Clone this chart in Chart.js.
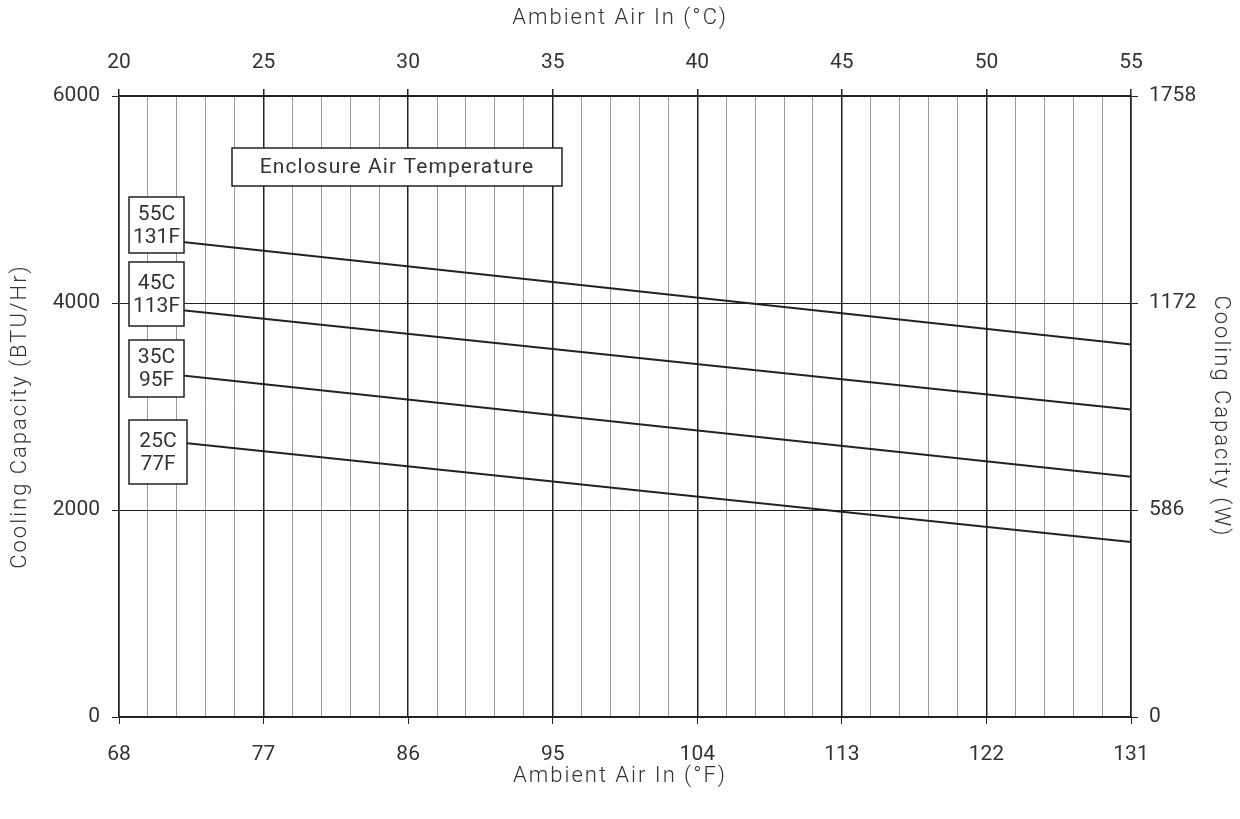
<!DOCTYPE html>
<html>
<head>
<meta charset="utf-8">
<script src="https://cdn.jsdelivr.net/npm/chart.js@4.4.1/dist/chart.umd.min.js"></script>
<style>
html, body { margin: 0; padding: 0; background: #fff; }
#wrap { width: 1240px; height: 819px; position: relative; }
</style>
</head>
<body>
<div id="wrap"><canvas id="coolingChart"></canvas></div>
<script>
// ambient air in, degrees C (where each curve starts and ends)
const ambientC = [22.2, 55]
const capacity55C = [4590, 3600]
const capacity45C = [3930, 2970]
const capacity35C = [3300, 2320]
const capacity25C = [2650, 1690]
const seriesNames = ['55C\n131F', '45C\n113F', '35C\n95F', '25C\n77F']

const btuTicks = [0, 2000, 4000, 6000]
const wattTicks = [0, 586, 1172, 1758]
const fahrenheitTicks = [68, 77, 86, 95, 104, 113, 122, 131]

const ink = '#222'
const textColor = '#333'
const fontFamily = 'Roboto, "Noto Sans", sans-serif'

Chart.defaults.font.family = fontFamily
Chart.defaults.font.size = 21
Chart.defaults.color = textColor

function toPoints(values) {
    return values.map((v, i) => ({ x: ambientC[i], y: v }))
}

const allSeries = [capacity55C, capacity45C, capacity35C, capacity25C]

// the white labelled boxes on top of the plot
const boxPlugin = {
    id: 'boxes',
    afterDatasetsDraw(chart) {
        const { ctx, chartArea } = chart
        const L = chartArea.left, T = chartArea.top
        const boxes = [
            { x: 10, y: 101, w: 55, h: 56 },
            { x: 10, y: 166, w: 55, h: 64 },
            { x: 10, y: 244, w: 55, h: 57 },
            { x: 10, y: 324, w: 58, h: 64 },
        ]
        ctx.save()
        ctx.lineWidth = 1.5
        ctx.strokeStyle = ink
        ctx.font = '21px ' + fontFamily
        ctx.textAlign = 'center'
        ctx.textBaseline = 'middle'
        boxes.forEach((b, i) => {
            ctx.fillStyle = '#fff'
            ctx.fillRect(L + b.x, T + b.y, b.w, b.h)
            ctx.strokeRect(L + b.x, T + b.y, b.w, b.h)
            const lines = seriesNames[i].split('\n')
            const cx = L + b.x + b.w / 2
            const cy = T + b.y + b.h / 2 + 1
            ctx.fillStyle = textColor
            ctx.fillText(lines[0], cx, cy - 11.5)
            ctx.fillText(lines[1], cx, cy + 11.5)
        })
        // title box
        const tb = { x: 113, y: 52, w: 330, h: 38 }
        ctx.fillStyle = '#fff'
        ctx.fillRect(L + tb.x, T + tb.y, tb.w, tb.h)
        ctx.strokeRect(L + tb.x, T + tb.y, tb.w, tb.h)
        ctx.fillStyle = textColor
        ctx.letterSpacing = '1.1px'
        ctx.fillText('Enclosure Air Temperature', L + tb.x + tb.w / 2, T + tb.y + tb.h / 2 + 1)
        ctx.restore()
    }
}

// axis titles, drawn by hand so they can be letter-spaced like the original
const axisTitlePlugin = {
    id: 'axisTitles',
    afterDraw(chart) {
        const { ctx, chartArea } = chart
        const cx = (chartArea.left + chartArea.right) / 2 - 5
        const cy = (chartArea.top + chartArea.bottom) / 2 + 10
        ctx.save()
        ctx.font = '300 22px ' + fontFamily
        ctx.letterSpacing = '2px'
        ctx.fillStyle = textColor
        ctx.textAlign = 'center'
        ctx.textBaseline = 'middle'
        ctx.fillText('Ambient Air In (°C)', cx, 18)
        ctx.fillText('Ambient Air In (°F)', cx, 776)

        ctx.save()
        ctx.translate(20, cy)
        ctx.rotate(-Math.PI / 2)
        ctx.fillText('Cooling Capacity (BTU/Hr)', 0, 0)
        ctx.restore()

        ctx.save()
        ctx.translate(1220, cy)
        ctx.rotate(Math.PI / 2)
        ctx.fillText('Cooling Capacity (W)', 0, 0)
        ctx.restore()
        ctx.restore()
    }
}

const setTicks = (values) => (scale) => {
    scale.ticks = values.map(v => ({ value: v }))
}

new Chart(document.getElementById('coolingChart'), {
    type: 'line',
    data: {
        datasets: allSeries.map((s, i) => ({
            label: seriesNames[i],
            data: toPoints(s),
            xAxisID: 'x2',
            yAxisID: 'y',
            borderColor: ink,
            borderWidth: 2,
            pointRadius: 0,
            fill: false,
            tension: 0
        }))
    },
    options: {
        responsive: true,
        maintainAspectRatio: false,
        animation: false,
        layout: { padding: 0 },
        plugins: {
            legend: { display: false },
            tooltip: { enabled: false }
        },
        scales: {
            x2: {
                type: 'linear',
                position: 'top',
                min: 20,
                max: 55,
                afterFit: (scale) => { scale.height = 96 },
                ticks: {
                    stepSize: 1,
                    autoSkip: false,
                    maxRotation: 0,
                    padding: 14,
                    callback: (v) => v % 5 === 0 ? String(v) : ''
                },
                grid: {
                    color: (c) => c.tick && c.tick.value % 5 === 0 ? ink : '#9a9a9a',
                    lineWidth: (c) => c.tick && c.tick.value % 5 === 0 ? 1.5 : 1,
                    tickColor: (c) => c.tick && c.tick.value % 5 === 0 ? ink : 'rgba(0,0,0,0)',
                    tickLength: 7
                },
                border: { color: ink, width: 1.5 }
            },
            x: {
                type: 'linear',
                position: 'bottom',
                min: 68,
                max: 131,
                afterBuildTicks: setTicks(fahrenheitTicks),
                afterFit: (scale) => { scale.height = 102 },
                ticks: {
                    autoSkip: false,
                    maxRotation: 0,
                    padding: 18,
                    callback: (v) => String(v)
                },
                grid: {
                    drawOnChartArea: false,
                    color: ink,
                    tickLength: 7
                },
                border: { color: ink, width: 1.5 }
            },
            y: {
                type: 'linear',
                position: 'left',
                min: 0,
                max: 6000,
                afterBuildTicks: setTicks(btuTicks),
                afterFit: (scale) => { scale.width = 119 },
                ticks: {
                    padding: 12,
                    callback: (v) => String(v)
                },
                grid: {
                    color: ink,
                    lineWidth: 1,
                    tickLength: 7
                },
                border: { color: ink, width: 1.5 }
            },
            y2: {
                type: 'linear',
                position: 'right',
                min: 0,
                max: 1758,
                afterBuildTicks: setTicks(wattTicks),
                afterFit: (scale) => { scale.width = 109 },
                ticks: {
                    padding: 11,
                    callback: (v) => String(v)
                },
                grid: {
                    drawOnChartArea: false,
                    color: ink,
                    tickLength: 7
                },
                border: { color: ink, width: 1.5 }
            }
        }
    },
    plugins: [boxPlugin, axisTitlePlugin]
})
</script>
</body>
</html>
